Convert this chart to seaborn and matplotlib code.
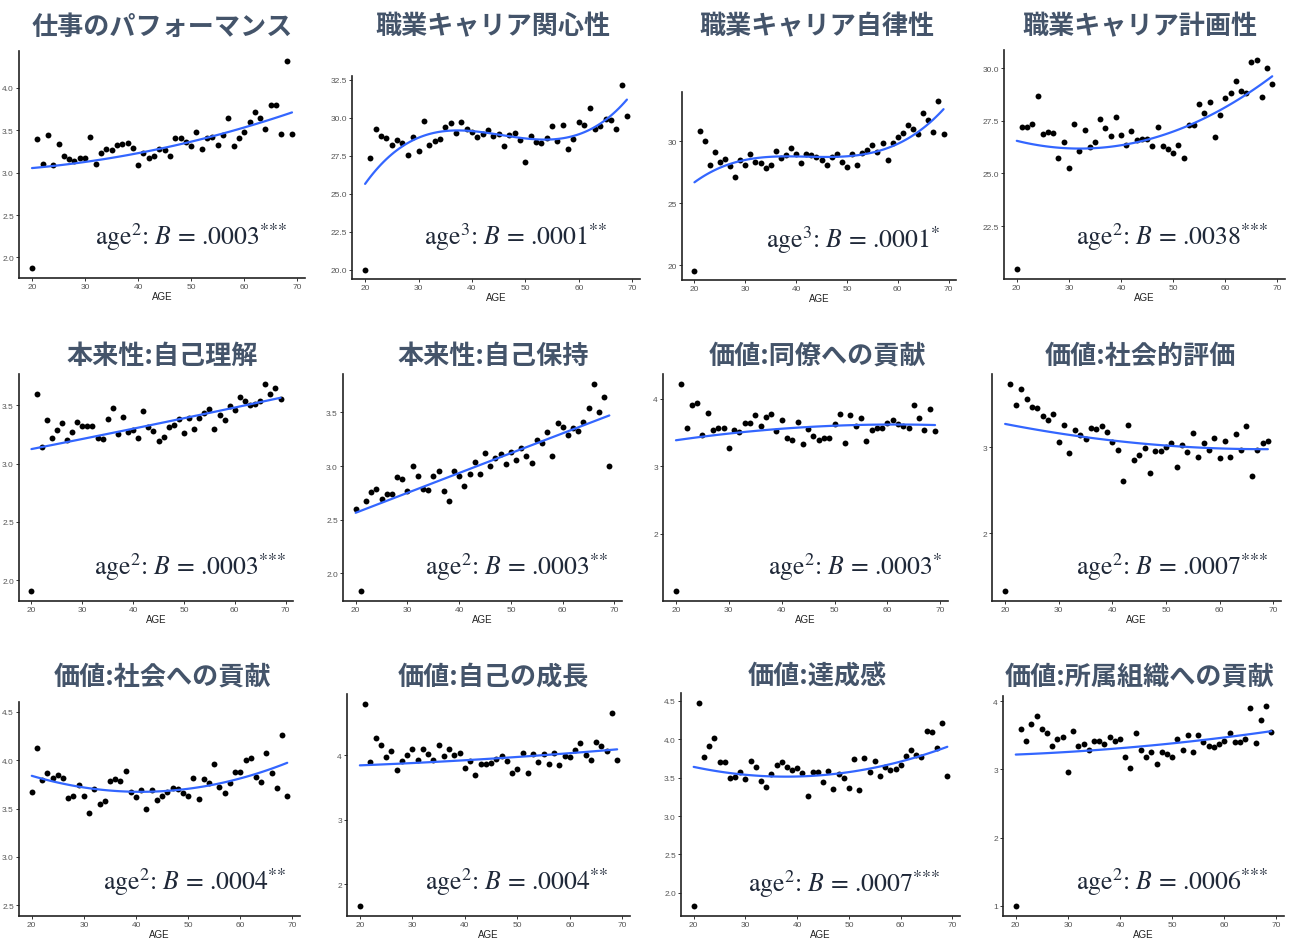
import numpy as np
import pandas as pd
import matplotlib
matplotlib.use("Agg")
import matplotlib.pyplot as plt
import seaborn as sns
from matplotlib.ticker import FormatStrFormatter

# ---------------- data ----------------
ages = list(range(20, 70))
fit_ages = [20, 30, 40, 50, 60, 69]

titles = ["仕事のパフォーマンス", "職業キャリア関心性", "職業キャリア自律性", "職業キャリア計画性",
          "本来性:自己理解", "本来性:自己保持", "価値:同僚への貢献", "価値:社会的評価",
          "価値:社会への貢献", "価値:自己の成長", "価値:達成感", "価値:所属組織への貢献"]

S3 = r"$^{{*}{*}{*}}$"
S2 = r"$^{{*}{*}}$"
S1 = r"$^{{*}}$"
notes = [r"age$^{2}$: $B$ = .0003" + S3, r"age$^{3}$: $B$ = .0001" + S2,
         r"age$^{3}$: $B$ = .0001" + S1, r"age$^{2}$: $B$ = .0038" + S3,
         r"age$^{2}$: $B$ = .0003" + S3, r"age$^{2}$: $B$ = .0003" + S2,
         r"age$^{2}$: $B$ = .0003" + S1, r"age$^{2}$: $B$ = .0007" + S3,
         r"age$^{2}$: $B$ = .0004" + S2, r"age$^{2}$: $B$ = .0004" + S2,
         r"age$^{2}$: $B$ = .0007" + S3, r"age$^{2}$: $B$ = .0006" + S3]

performance = [1.88, 3.40, 3.10, 3.44, 3.09, 3.34, 3.19, 3.16, 3.14, 3.17,
               3.17, 3.42, 3.10, 3.23, 3.28, 3.26, 3.32, 3.34, 3.35, 3.29,
               3.09, 3.23, 3.17, 3.19, 3.28, 3.26, 3.20, 3.41, 3.41, 3.36,
               3.31, 3.48, 3.28, 3.41, 3.42, 3.33, 3.44, 3.64, 3.31, 3.41,
               3.48, 3.60, 3.71, 3.64, 3.51, 3.79, 3.80, 3.46, 4.31, 3.45]
career_interest = [20.0, 27.38, 29.30, 28.84, 28.65, 28.19, 28.56, 28.32, 27.53, 28.71,
                   27.84, 29.81, 28.19, 28.49, 28.58, 29.37, 29.68, 28.98, 29.74, 29.30,
                   29.06, 28.73, 28.95, 29.17, 28.80, 28.93, 28.12, 28.89, 28.98, 28.52,
                   27.07, 28.82, 28.43, 28.34, 28.65, 29.48, 28.45, 29.50, 27.97, 28.63,
                   29.74, 29.52, 30.62, 29.26, 29.46, 29.94, 29.87, 29.26, 32.15, 30.11]
career_autonomy = [19.52, 30.83, 30.03, 28.08, 29.15, 28.37, 28.56, 28.00, 27.09, 28.51,
                   28.08, 28.99, 28.37, 28.27, 27.81, 28.11, 29.20, 28.67, 28.93, 29.47,
                   28.99, 28.24, 29.01, 28.88, 28.77, 28.48, 28.08, 28.75, 28.96, 28.32,
                   27.92, 29.01, 28.08, 29.09, 29.28, 29.73, 29.12, 29.87, 28.51, 29.87,
                   30.32, 30.64, 31.33, 30.99, 30.56, 32.24, 31.73, 30.75, 33.28, 30.59]
career_planning = [20.49, 27.20, 27.22, 27.33, 28.68, 26.87, 26.98, 26.93, 25.75, 26.48,
                   25.28, 27.34, 26.07, 27.06, 26.26, 26.48, 27.56, 27.14, 26.79, 27.70,
                   26.81, 26.34, 27.00, 26.59, 26.65, 26.65, 26.30, 27.20, 26.30, 26.15,
                   25.97, 26.37, 25.72, 27.28, 27.28, 28.30, 27.85, 28.41, 26.71, 27.78,
                   28.57, 28.81, 29.39, 28.92, 28.82, 30.27, 30.36, 28.63, 30.02, 29.23]
self_understanding = [1.91, 3.60, 3.14, 3.37, 3.22, 3.29, 3.35, 3.20, 3.27, 3.36,
                      3.32, 3.32, 3.32, 3.22, 3.21, 3.38, 3.48, 3.25, 3.40, 3.27,
                      3.29, 3.22, 3.45, 3.31, 3.28, 3.19, 3.23, 3.31, 3.33, 3.38,
                      3.26, 3.39, 3.30, 3.39, 3.43, 3.47, 3.30, 3.42, 3.37, 3.49,
                      3.46, 3.57, 3.54, 3.50, 3.51, 3.54, 3.68, 3.60, 3.65, 3.55]
self_keeping = [2.60, 1.84, 2.67, 2.76, 2.79, 2.69, 2.74, 2.74, 2.90, 2.88,
                2.77, 3.00, 2.91, 2.79, 2.78, 2.91, 2.95, 2.77, 2.67, 2.95,
                2.91, 2.81, 2.93, 3.04, 2.93, 3.12, 3.00, 3.07, 3.11, 3.02,
                3.13, 3.06, 3.17, 3.09, 3.03, 3.24, 3.21, 3.32, 3.09, 3.40,
                3.36, 3.29, 3.35, 3.33, 3.41, 3.54, 3.76, 3.50, 3.64, 3.00]
v_colleagues = [1.16, 4.21, 3.57, 3.91, 3.93, 3.46, 3.79, 3.54, 3.57, 3.56,
                3.27, 3.53, 3.51, 3.64, 3.64, 3.75, 3.60, 3.72, 3.77, 3.52,
                3.68, 3.41, 3.38, 3.66, 3.33, 3.55, 3.44, 3.38, 3.41, 3.41,
                3.63, 3.77, 3.35, 3.75, 3.60, 3.71, 3.37, 3.54, 3.57, 3.57,
                3.64, 3.69, 3.62, 3.59, 3.56, 3.91, 3.71, 3.53, 3.85, 3.52]
v_recognition = [1.33, 3.73, 3.49, 3.68, 3.56, 3.47, 3.46, 3.36, 3.32, 3.39,
                 3.06, 3.26, 2.93, 3.20, 3.14, 3.09, 3.22, 3.21, 3.24, 3.18,
                 3.06, 2.97, 2.61, 3.26, 2.85, 2.91, 2.99, 2.70, 2.95, 2.96,
                 3.00, 3.05, 2.77, 3.02, 2.94, 3.16, 2.89, 3.05, 2.97, 3.10,
                 2.87, 3.07, 2.88, 3.15, 2.97, 3.25, 2.66, 2.97, 3.05, 3.07]
v_society = [3.67, 4.13, 3.79, 3.87, 3.81, 3.85, 3.81, 3.61, 3.63, 3.74,
             3.63, 3.45, 3.70, 3.55, 3.58, 3.78, 3.80, 3.78, 3.89, 3.67,
             3.62, 3.69, 3.49, 3.69, 3.59, 3.63, 3.67, 3.71, 3.70, 3.66,
             3.63, 3.82, 3.60, 3.80, 3.76, 3.96, 3.72, 3.66, 3.76, 3.88,
             3.88, 4.00, 4.02, 3.83, 3.77, 4.07, 3.87, 3.71, 4.26, 3.63]
v_growth = [1.665, 4.79, 3.89, 4.26, 4.15, 3.97, 4.06, 3.77, 3.91, 4.00,
            4.10, 3.93, 4.09, 4.02, 3.93, 4.16, 3.98, 4.09, 4.00, 4.04,
            3.80, 3.91, 3.69, 3.86, 3.86, 3.88, 3.94, 3.98, 3.91, 3.72,
            3.78, 4.03, 3.72, 4.02, 3.89, 4.02, 3.87, 4.04, 3.85, 3.99,
            3.97, 4.08, 4.19, 4.00, 3.92, 4.20, 4.14, 4.06, 4.65, 3.92]
v_achievement = [1.83, 4.47, 3.77, 3.91, 4.01, 3.70, 3.70, 3.50, 3.51, 3.57,
                 3.48, 3.72, 3.64, 3.45, 3.38, 3.55, 3.67, 3.70, 3.64, 3.60,
                 3.63, 3.56, 3.26, 3.57, 3.57, 3.44, 3.59, 3.35, 3.55, 3.50,
                 3.37, 3.74, 3.34, 3.76, 3.57, 3.72, 3.52, 3.64, 3.60, 3.61,
                 3.67, 3.78, 3.86, 3.80, 3.77, 4.11, 4.09, 3.89, 4.21, 3.52]
v_organization = [1.00, 3.60, 3.41, 3.67, 3.79, 3.59, 3.53, 3.35, 3.45, 3.48,
                  2.97, 3.57, 3.34, 3.37, 3.28, 3.41, 3.41, 3.37, 3.48, 3.41,
                  3.45, 3.19, 3.02, 3.54, 3.28, 3.19, 3.26, 3.08, 3.25, 3.22,
                  3.18, 3.45, 3.28, 3.50, 3.26, 3.50, 3.40, 3.35, 3.33, 3.37,
                  3.42, 3.54, 3.40, 3.40, 3.45, 3.90, 3.39, 3.72, 3.93, 3.55]

# fitted curve values (at fit_ages)
fit_performance = [3.05, 3.13, 3.23, 3.36, 3.53, 3.71]
fit_interest = [25.7, 28.55, 29.25, 28.7, 28.8, 31.25]
fit_autonomy = [26.7, 28.5, 28.75, 28.85, 29.75, 32.6]
fit_planning = [26.48, 26.28, 26.4, 26.95, 28.0, 29.7]
fit_understanding = [3.125, 3.21, 3.30, 3.39, 3.48, 3.565]
fit_keeping = [2.565, 2.75, 2.935, 3.12, 3.305, 3.47]
fit_colleagues = [3.385, 3.48, 3.55, 3.60, 3.62, 3.605]
fit_recognition = [3.27, 3.16, 3.075, 3.02, 2.985, 2.975]
fit_society = [3.83, 3.73, 3.675, 3.70, 3.80, 3.98]
fit_growth = [3.84, 3.88, 3.92, 3.97, 4.03, 4.09]
fit_achievement = [3.63, 3.55, 3.525, 3.565, 3.69, 3.915]
fit_organization = [3.22, 3.255, 3.31, 3.385, 3.47, 3.56]
fit_orders = [2, 3, 3, 2, 2, 2, 2, 2, 2, 2, 2, 2]

yticks = [[2.0, 2.5, 3.0, 3.5, 4.0], [20.0, 22.5, 25.0, 27.5, 30.0, 32.5], [20, 25, 30],
          [22.5, 25.0, 27.5, 30.0], [2.0, 2.5, 3.0, 3.5], [2.0, 2.5, 3.0, 3.5],
          [2, 3, 4], [2, 3], [2.5, 3.0, 3.5, 4.0, 4.5], [2, 3, 4],
          [2.0, 2.5, 3.0, 3.5, 4.0, 4.5], [1, 2, 3, 4]]
xticks = [20, 30, 40, 50, 60, 70]

series = [performance, career_interest, career_autonomy, career_planning,
          self_understanding, self_keeping, v_colleagues, v_recognition,
          v_society, v_growth, v_achievement, v_organization]
fits = [fit_performance, fit_interest, fit_autonomy, fit_planning,
        fit_understanding, fit_keeping, fit_colleagues, fit_recognition,
        fit_society, fit_growth, fit_achievement, fit_organization]

# ---------------- layout (pixels) ----------------
W, H = 1299, 945
boxes = [(19, 52, 305, 279), (352, 77, 640, 280), (682, 93, 956, 281), (1004, 51, 1285, 280),
         (19, 375, 293, 602), (343, 375, 622, 602), (663, 375, 948, 602), (992, 375, 1281, 602),
         (19, 703, 300, 917), (347, 695, 630, 917), (681, 694, 960, 917), (1003, 697, 1284, 917)]
title_pos = [(162, 27), (493, 27), (817, 27), (1140, 27),
             (162, 356), (493, 356), (817, 356), (1140, 356),
             (162, 677), (493, 677), (817, 677), (1140, 677)]
note_pos = [(287, 237), (607, 237), (940, 240), (1268, 237),
            (286, 567), (608, 567), (942, 567), (1268, 567),
            (286, 882), (608, 882), (940, 884), (1268, 882)]

sns.set_style("white")
plt.rcParams["font.family"] = ["Liberation Sans", "DejaVu Sans"]
plt.rcParams["mathtext.fontset"] = "stix"

fig = plt.figure(figsize=(W / 100, H / 100), dpi=100)
fig.patch.set_facecolor("white")

for i in range(12):
    l, t, r, b = boxes[i]
    ax = fig.add_axes([l / W, 1 - b / H, (r - l) / W, (b - t) / H])
    df = pd.DataFrame({"AGE": ages, "value": series[i]})
    sns.scatterplot(data=df, x="AGE", y="value", ax=ax, color="black", s=18,
                    linewidth=0, zorder=3)
    fdf = pd.DataFrame({"AGE": fit_ages, "fit": fits[i]})
    sns.regplot(data=fdf, x="AGE", y="fit", ax=ax, order=fit_orders[i], scatter=False,
                ci=None, truncate=True, line_kws=dict(color="#3366FF", lw=1.6, zorder=4))
    ax.set_xlim(17.55, 71.45)
    if i == 8:
        ax.set_ylim(2.39, 4.60)
    ax.set_xticks(xticks)
    ax.set_yticks(yticks[i])
    if any(abs(v - round(v)) > 1e-9 for v in yticks[i]):
        ax.yaxis.set_major_formatter(FormatStrFormatter("%.1f"))
    else:
        ax.yaxis.set_major_formatter(FormatStrFormatter("%d"))
    for s in ["top", "right"]:
        ax.spines[s].set_visible(False)
    for s in ["left", "bottom"]:
        ax.spines[s].set_color("#222222")
        ax.spines[s].set_linewidth(1.2)
    ax.tick_params(axis="both", which="both", direction="out", length=2.5, width=0.7,
                   color="#333333", labelsize=6, labelcolor="#555555", pad=1.2,
                   left=True, bottom=True)
    ax.set_xlabel("AGE", fontsize=7, color="#222222", labelpad=0.8)
    ax.set_ylabel("")
    ax.set_facecolor("white")

    tx, ty = title_pos[i]
    fig.text(tx / W, 1 - ty / H, titles[i], ha="center", va="center", fontsize=18.8,
             fontweight="bold", color="#44546A",
             family=["Noto Sans CJK JP", "DejaVu Sans"])
    nx, ny = note_pos[i]
    fig.text(nx / W, 1 - ny / H, notes[i], ha="right", va="center", fontsize=18.5,
             color="#1f2838", family="STIXGeneral")

fig.savefig("out.png", dpi=100, facecolor="white")
